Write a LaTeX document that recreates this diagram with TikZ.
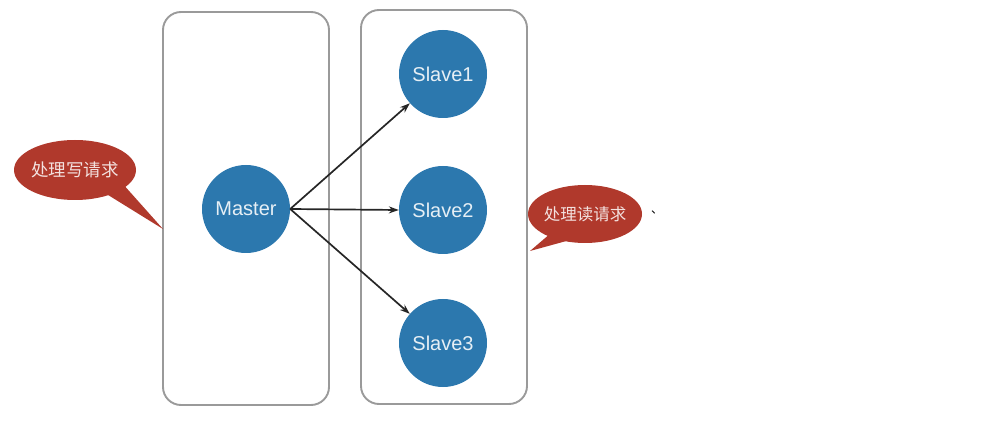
\documentclass[tikz,border=0pt]{standalone}
\usepackage{fontspec}
\setmainfont{Liberation Sans}
\newfontfamily\cjk{Noto Sans CJK SC}
\usetikzlibrary{arrows.meta,shadows}
\definecolor{nodeblue}{HTML}{2C78AE}
\definecolor{bubred}{HTML}{B0392C}
\definecolor{boxgray}{HTML}{9A9A9A}
\tikzset{
  container/.style={draw=boxgray, line width=1.9pt, rounded corners=18pt},
  server/.style={circle, fill=nodeblue, minimum size=88pt, inner sep=0pt, text=white!88!nodeblue, font=\fontsize{20}{24}\selectfont},
  conn/.style={-{Stealth[length=10pt,width=7pt]}, line width=1.7pt, black!85},
  bubble/.style={fill=bubred, draw=none},
  bubtext/.style={text=white!85!bubred, font=\cjk\fontsize{17.5}{20}\selectfont}
}
\begin{document}
\begin{tikzpicture}[x=1pt,y=-1pt]
\useasboundingbox (0,0) rectangle (988,438);
% containers
\draw[container] (163,12) rectangle (329,405);
\draw[container] (361,10) rectangle (527,404);
% nodes
\node[server] (master) at (246,209) {Master};
\node[server] (s1) at (443,74) {Slave1};
\node[server] (s2) at (443,210) {Slave2};
\node[server] (s3) at (443,343) {Slave3};
% connectors
\draw[conn] (master.east) -- (s1);
\draw[conn] (master.east) -- (s2.west);
\draw[conn] (master.east) -- (s3);
% left bubble
\fill[bubble] (100,190) -- (163,229) -- (122,183) -- cycle;
\fill[bubble] (75,170) ellipse [x radius=61, y radius=30];
\node[bubtext] (lbl1) at (75,170) {处理写请求};
% right bubble
\fill[bubble] (551,233) -- (530,251) -- (570,240) -- cycle;
\fill[bubble] (585,214) ellipse [x radius=57, y radius=29];
\node[bubtext, font=\cjk\fontsize{16.5}{20}\selectfont] (lbl2) at (585,214) {处理读请求};
\node[font=\cjk\fontsize{12}{14}\selectfont] (dot) at (657,212) {、};
\end{tikzpicture}
\end{document}
